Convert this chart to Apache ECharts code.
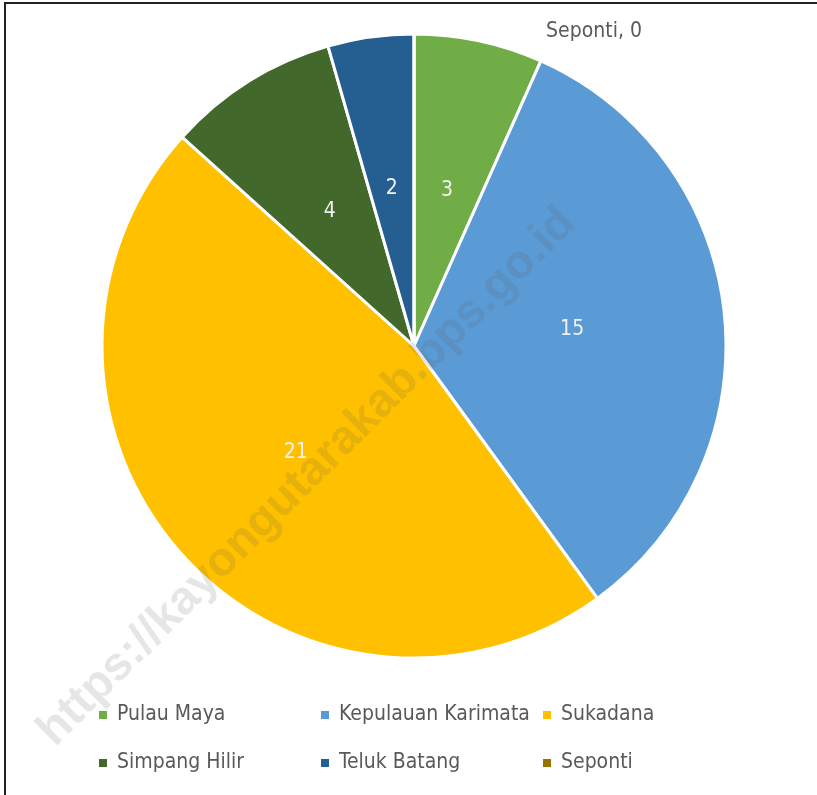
<!DOCTYPE html>
<html>
<head>
<meta charset="utf-8">
<script src="https://cdn.jsdelivr.net/npm/echarts@6/dist/echarts.min.js"></script>
<style>
    * { margin: 0; padding: 0; }
    body { background: #fff; width: 817px; height: 795px; overflow: hidden; position: relative; }
    #frame { position: absolute; left: 4px; top: 2px; width: 900px; height: 900px;
             border-left: 2px solid #222; border-top: 2px solid #222; }
    #chart { position: absolute; left: 0; top: 0; width: 817px; height: 795px; }
</style>
</head>
<body>
<div id="frame"></div>
<div id="chart"></div>
<script>
    // data
    var kecamatan = ['Pulau Maya', 'Kepulauan Karimata', 'Sukadana', 'Simpang Hilir', 'Teluk Batang', 'Seponti'];
    var jumlah = [3, 15, 21, 4, 2, 0];
    var warna = ['#70AD47', '#5B9BD5', '#FFC000', '#43682B', '#255E91', '#997300'];
    var watermark = 'https://kayongutarakab.bps.go.id';

    var font = '"Liberation Sans Narrow", "DejaVu Sans Condensed", sans-serif';

    var pieData = kecamatan.map(function (name, i) {
        var item = { name: name, value: jumlah[i], itemStyle: { color: warna[i] } };
        if (jumlah[i] === 0) {
            // zero slice: label outside, like the original
            item.label = {
                position: 'outside',
                formatter: '{b}, {c}',
                color: '#595959'
            };
            item.labelLine = { show: false };
        }
        return item;
    });

    var option = {
        backgroundColor: 'transparent',
        animation: false,
        legend: {
            data: kecamatan,
            left: 97,
            top: 696,
            width: 700,
            padding: 0,
            orient: 'horizontal',
            icon: 'rect',
            itemWidth: 10,
            itemHeight: 10,
            itemGap: 10,
            textStyle: {
                fontFamily: font,
                fontSize: 21,
                color: '#595959',
                width: 192,
                lineHeight: 38,
                padding: [0, 0, 0, 4]
            }
        },
        graphic: [{
            type: 'text',
            x: 307,
            y: 477,
            rotation: Math.PI / 4,
            z: 100,
            silent: true,
            style: {
                text: watermark,
                font: 'bold 47px "Liberation Sans", Arial, sans-serif',
                fill: 'rgba(90,90,90,0.15)',
                align: 'center',
                verticalAlign: 'middle'
            }
        }],
        series: [{
            type: 'pie',
            center: [414, 346],
            radius: [0, 312],
            startAngle: 90,
            clockwise: true,
            avoidLabelOverlap: false,
            emphasis: { disabled: true },
            itemStyle: { borderColor: '#fff', borderWidth: 3 },
            label: {
                show: true,
                position: 'inside',
                formatter: '{c}',
                fontFamily: font,
                fontSize: 21,
                color: '#f2f2f2'
            },
            labelLayout: function (params) {
                if (params.dataIndex === 5) {
                    return { x: 594, y: 32, align: 'center', verticalAlign: 'middle' };
                }
            },
            data: pieData
        }]
    };

    var myChart = echarts.init(document.getElementById('chart'));
    myChart.setOption(option);
</script>
</body>
</html>
